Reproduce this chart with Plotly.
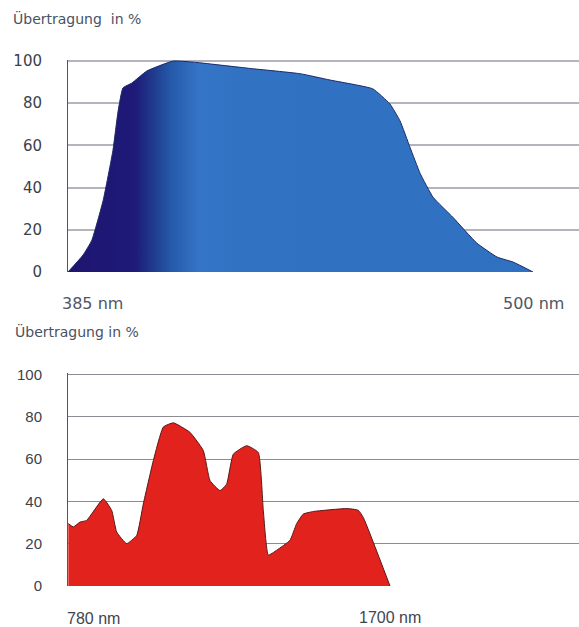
import plotly.graph_objects as go

# ---- data ----
blue_nm = [385.0, 388.7, 390.9, 393.7, 396.1, 397.4, 398.6, 400.8, 404.5, 411.0, 415.9,
           430.0, 442.4, 449.8, 460.4, 464.6, 467.1, 469.6, 472.1, 475.3, 480.2, 486.1,
           491.1, 495.1, 500.0]
blue_pct = [0.0, 8.0, 15.1, 34.0, 57.5, 76.4, 87.3, 89.6, 95.3, 100.0, 99.5,
            96.5, 94.0, 91.0, 86.8, 79.7, 71.7, 59.0, 46.7, 35.4, 25.9, 13.7,
            7.1, 4.7, 0.0]

red_nm = [780.9, 795.1, 814.3, 833.4, 880.9, 904.9, 919.1, 947.7, 976.3, 995.1, 1023.7,
          1052.3, 1080.9, 1128.6, 1166.6, 1185.7, 1214.3, 1233.4, 1252.3, 1290.6, 1323.7,
          1338.0, 1352.3, 1376.3, 1414.3, 1433.4, 1452.3, 1480.9, 1576.3, 1609.4, 1623.7, 1700.0]
red_pct = [29.5, 27.9, 30.2, 31.0, 41.2, 35.7, 25.5, 20.0, 23.9, 38.7, 59.2,
           75.1, 77.1, 72.6, 64.0, 49.8, 45.1, 48.2, 62.3, 66.3, 63.1,
           35.7, 14.6, 16.9, 21.6, 29.5, 34.0, 35.2, 36.6, 35.8, 32.4, 0.0]

y_ticks = [0, 20, 40, 60, 80, 100]
title_top = "Übertragung  in %"
title_bottom = "Übertragung in %"
top_labels = ["385 nm", "500 nm"]
bottom_labels = ["780 nm", "1700 nm"]

W, H = 579, 627

fig = go.Figure()

fig.add_trace(go.Scatter(
    x=blue_nm, y=blue_pct, mode="lines", fill="tozeroy",
    line=dict(color="#1b2a66", width=1, shape="spline", smoothing=0.4),
    fillgradient=dict(type="horizontal", start=385, stop=500,
                      colorscale=[[0.0, "#1e1570"], [0.144, "#1e1a78"], [0.176, "#1f3588"],
                                  [0.219, "#2558a8"], [0.284, "#3575c8"], [0.37, "#3272c2"],
                                  [1.0, "#3070c0"]]),
    xaxis="x", yaxis="y", hoverinfo="skip", showlegend=False))

fig.add_trace(go.Scatter(
    x=red_nm, y=red_pct, mode="lines", fill="tozeroy",
    line=dict(color="#5a1818", width=1, shape="spline", smoothing=0.4),
    fillcolor="#e2221c",
    xaxis="x2", yaxis="y2", hoverinfo="skip", showlegend=False))

x0 = 68 / W
top_dom = [(H - 272) / H, (H - 60) / H]
bot_dom = [(H - 586) / H, (H - 373.3) / H]

axis_common = dict(showgrid=True, zeroline=False, showline=True, linecolor="#555555",
                   linewidth=1, ticks="outside", tickcolor="rgba(0,0,0,0)",
                   tickvals=y_ticks, range=[0, 100.5], fixedrange=True, automargin=False)

fig.update_layout(
    width=W, height=H, autosize=False, margin=dict(l=0, r=0, t=0, b=0),
    paper_bgcolor="white", plot_bgcolor="white", showlegend=False,
    xaxis=dict(domain=[x0, 1], range=[385, 385 + (579 - 68) / 465 * 115],
               showgrid=False, zeroline=False, showticklabels=False, showline=False,
               automargin=False),
    yaxis=dict(domain=top_dom, gridcolor="#b4b4bc", gridwidth=1.5, ticklen=22,
               tickfont=dict(family="DejaVu Sans", size=15, color="#3a3f4a"), **axis_common),
    xaxis2=dict(domain=[x0, 1], range=[780, 780 + (579 - 68) / 322 * 920], anchor="y2",
                showgrid=False, zeroline=False, showticklabels=False, showline=False,
                automargin=False),
    yaxis2=dict(domain=bot_dom, anchor="x2", gridcolor="#8c8c94", gridwidth=1.2, ticklen=22,
                tickfont=dict(family="Liberation Sans", size=15, color="#3a3f4a"), **axis_common),
)

ann = []
ann.append(dict(text=title_top, xref="paper", yref="paper", x=11 / W, y=1 - 18 / H,
                xanchor="left", yanchor="middle", showarrow=False,
                font=dict(family="DejaVu Sans", size=14, color="#4a5262")))
ann.append(dict(text=title_bottom, xref="paper", yref="paper", x=13 / W, y=1 - 332 / H,
                xanchor="left", yanchor="middle", showarrow=False,
                font=dict(family="DejaVu Sans", size=14, color="#4a5262")))
ann.append(dict(text=top_labels[0], xref="x", yref="paper", x=blue_nm[0], y=1 - 303 / H,
                xanchor="left", yanchor="middle", showarrow=False, xshift=-8,
                font=dict(family="DejaVu Sans", size=16, color="#505664")))
ann.append(dict(text=top_labels[1], xref="x", yref="paper", x=blue_nm[-1], y=1 - 303 / H,
                xanchor="center", yanchor="middle", showarrow=False,
                font=dict(family="DejaVu Sans", size=16, color="#505664")))
ann.append(dict(text=bottom_labels[0], xref="x2", yref="paper", x=red_nm[0], y=1 - 618 / H,
                xanchor="left", yanchor="middle", showarrow=False, xshift=-3,
                font=dict(family="Liberation Sans", size=16, color="#404550")))
ann.append(dict(text=bottom_labels[1], xref="x2", yref="paper", x=red_nm[-1], y=1 - 617 / H,
                xanchor="center", yanchor="middle", showarrow=False,
                font=dict(family="Liberation Sans", size=16, color="#404550")))
fig.update_layout(annotations=ann)

fig.write_html("out.html", config={"responsive": False, "displayModeBar": False},
               default_width="579px", default_height="627px",
               post_script="document.body.style.margin='0';document.body.style.overflow='hidden';")
